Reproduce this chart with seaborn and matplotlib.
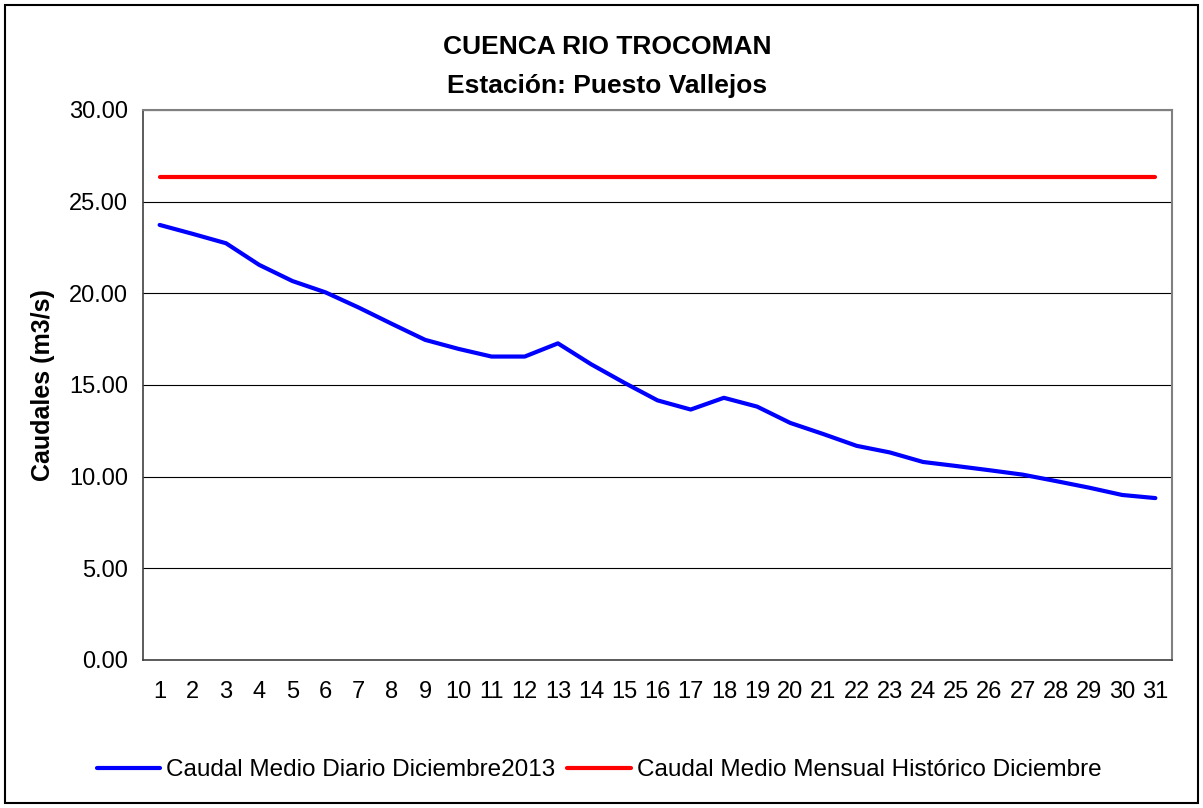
import numpy as np
import pandas as pd
import matplotlib
matplotlib.use("Agg")
import matplotlib.pyplot as plt
import seaborn as sns
from matplotlib.patches import Rectangle

# datos
dias = list(range(1, 32))
caudal_diario = [23.73, 23.24, 22.73, 21.55, 20.67, 20.05, 19.22, 18.33, 17.46, 16.97,
                 16.55, 16.55, 17.27, 16.13, 15.12, 14.16, 13.66, 14.30, 13.82, 12.93,
                 12.32, 11.68, 11.32, 10.80, 10.58, 10.35, 10.11, 9.76, 9.40, 9.00, 8.83]
caudal_historico = [26.33] * 31
serie_diaria = "Caudal Medio Diario Diciembre2013"
serie_hist = "Caudal Medio Mensual Histórico Diciembre"
y_ticks = [0, 5, 10, 15, 20, 25, 30]

df = pd.DataFrame({
    "dia": dias * 2,
    "caudal": caudal_diario + caudal_historico,
    "serie": [serie_diaria] * 31 + [serie_hist] * 31,
})

sns.set_style("white")
plt.rcParams["font.family"] = ["Liberation Sans", "DejaVu Sans"]
plt.rcParams["text.color"] = "black"
plt.rcParams["axes.labelcolor"] = "black"
plt.rcParams["xtick.color"] = "black"
plt.rcParams["ytick.color"] = "black"

fig = plt.figure(figsize=(12.03, 8.08), dpi=100)
ax = fig.add_axes([0.1189, 0.1832, 0.8553, 0.6807])

sns.lineplot(data=df, x="dia", y="caudal", hue="serie",
             palette={serie_diaria: "#0000ff", serie_hist: "#ff0000"},
             linewidth=3, ax=ax, legend=False)

ax.set_xlim(0.5, 31.5)
ax.set_ylim(0, 30)
ax.set_yticks(y_ticks)
ax.set_yticklabels(["%.2f" % v for v in y_ticks])
ax.yaxis.grid(True, color="black", linewidth=0.8)
ax.set_axisbelow(True)

# ticks entre categorias (estilo Excel)
ax.set_xticks([d + 0.5 for d in [0] + dias])
ax.set_xticklabels([])
ax.set_xticks(dias, minor=True)
ax.set_xticklabels([str(d) for d in dias], minor=True, fontsize=17)
ax.tick_params(axis="x", which="major", direction="out", length=6, width=1, color="#404040")
ax.tick_params(axis="x", which="minor", length=0, pad=15, labelcolor="black")
ax.tick_params(axis="y", direction="out", length=6, width=1, color="#404040",
               labelsize=17, pad=5, labelcolor="black")

for s in ["left", "bottom"]:
    ax.spines[s].set_color("#404040")
    ax.spines[s].set_linewidth(1.2)
for s in ["top", "right"]:
    ax.spines[s].set_color("#808080")
    ax.spines[s].set_linewidth(1.5)

ax.set_xlabel("")
ax.set_ylabel("Caudales (m3/s)", fontsize=18, fontweight="bold", labelpad=10, color="black")

fig.text(0.5045, 0.942, "CUENCA RIO TROCOMAN", ha="center", va="center",
         fontsize=19, fontweight="bold", color="black")
fig.text(0.5045, 0.893, "Estación: Puesto Vallejos", ha="center", va="center",
         fontsize=19, fontweight="bold", color="black")

handles = [plt.Line2D([], [], color="#0000ff", linewidth=3),
           plt.Line2D([], [], color="#ff0000", linewidth=3)]
fig.legend(handles, [serie_diaria, serie_hist], loc="center", ncol=2,
           bbox_to_anchor=(0.498, 0.047), frameon=False, fontsize=17.5,
           handlelength=2.6, handletextpad=0.25, columnspacing=0.5,
           labelcolor="black")

fig.add_artist(Rectangle((5 / 1203, 5 / 808), 1 - 10 / 1203, 1 - 10 / 808,
                         transform=fig.transFigure, fill=False,
                         edgecolor="black", linewidth=1.5))

fig.savefig("out.png", dpi=100)
